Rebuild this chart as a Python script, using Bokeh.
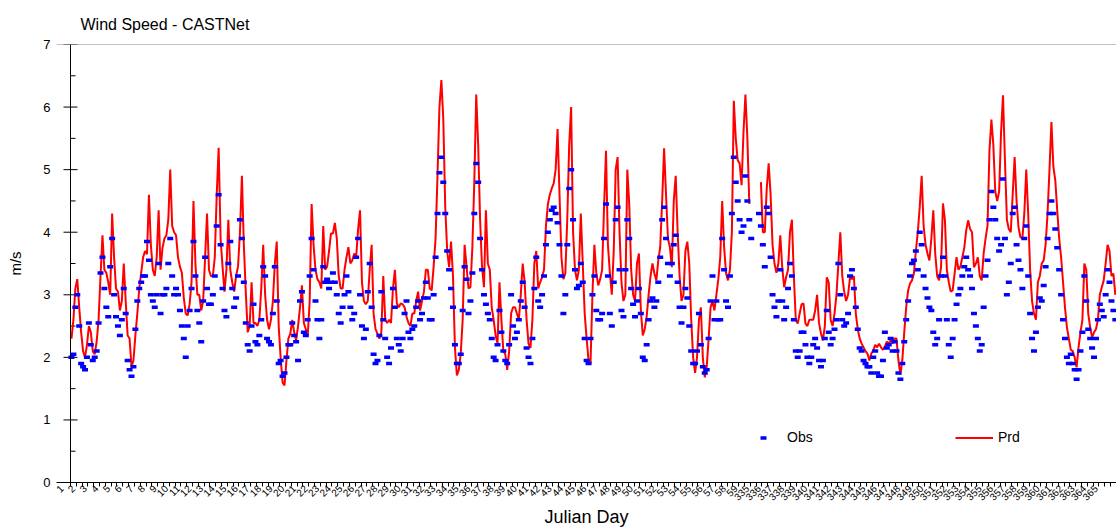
import math
import numpy as np
from bokeh.plotting import figure
from bokeh.models import Range1d, FixedTicker, Span, Legend, LegendItem
from bokeh.embed import file_html
from bokeh.resources import INLINE

nan = float("nan")
FONT = "Liberation Sans"

# Julian day of each plotted day (Jan 1 - Feb 28, then Dec 1 - Dec 31)
day_labels = list(range(1, 60)) + list(range(335, 366))
SAMPLES_PER_DAY = 6  # 4-hourly values

# Predicted wind speed (m/s), one row per day
prd_jan = [
    2.3, 2.6, 3.1, 3.25, 2.8, 2.4,
    2.1, 2.0, 2.2, 2.5, 2.4, 2.1,
    2.05, 2.25, 2.6, 3.3, 3.95, 3.4,
    3.35, 3.2, 3.0, 4.3, 3.6, 3.1,
    3.05, 2.75, 2.9, 3.5, 2.9, 2.35,
    2.3, 1.85, 1.95, 2.35, 2.7, 3.1,
    3.35, 3.6, 3.7, 3.65, 4.6, 3.8,
    3.4, 3.3, 3.6, 4.35, 3.4, 3.75,
    3.9, 3.95, 4.2, 5.0, 4.1, 4.0,
    3.95, 3.6, 3.45, 3.35, 2.95, 2.7,
    2.67, 2.85, 3.2, 4.5, 3.5, 3.0,
    3.0, 2.75, 2.9, 3.6, 4.3, 3.4,
    3.3, 3.3, 3.6, 4.6, 5.35, 3.9,
    3.45, 3.05, 3.4, 4.2, 3.4, 3.2,
    3.05, 3.3, 3.45, 4.0, 4.9, 3.8,
    3.05, 2.4, 2.5, 3.2, 2.55, 2.55,
    2.5, 2.6, 3.1, 3.8, 3.0, 2.6,
    2.45, 2.6, 2.9, 3.5, 3.85, 2.5,
    2.0, 1.6, 1.55, 1.95, 2.3, 2.38,
    2.6, 2.4, 2.27, 2.5, 2.8, 3.15,
    2.55, 2.45, 2.35, 2.9, 4.45, 3.8,
    3.4, 3.25, 3.2, 3.1, 4.1, 3.4,
    3.45, 3.7, 3.98, 3.98, 4.15, 3.9,
    3.3, 3.1, 3.1, 3.4, 3.6, 3.76,
    3.5, 3.55, 3.66, 3.6, 4.05, 4.35,
    3.2, 2.9, 2.85, 2.9, 3.4, 3.8,
    2.7, 2.45, 2.38, 2.3, 2.4, 3.3,
    2.6, 2.55, 2.6, 2.55, 3.1, 3.4,
    2.86, 2.8, 2.86, 2.85, 2.8, 2.65,
    2.55, 2.5, 2.7, 2.7, 2.9, 3.05,
    2.75, 2.9, 3.05, 3.4, 3.4, 3.1,
]
prd_feb = [
    3.07, 3.45, 3.9, 4.9, 6.0, 6.43,
    5.8, 4.4, 3.7, 3.44, 3.85, 3.3,
    2.16, 1.71, 1.8, 2.06, 2.6, 3.8,
    3.45, 3.1, 3.12, 3.76, 4.8, 6.2,
    5.4, 4.2, 3.44, 3.12, 4.35, 3.5,
    3.4, 2.8, 2.6, 2.35, 2.22, 3.2,
    2.6, 2.1, 2.05, 1.8, 2.1, 2.7,
    2.8, 2.8, 2.7, 2.6, 3.0, 3.5,
    3.2, 2.6, 2.22, 2.15, 2.6, 3.5,
    3.7, 3.1, 3.2, 3.28, 3.4, 4.1,
    4.45, 4.6, 4.7, 4.78, 5.0, 5.65,
    4.6, 3.6, 3.25, 3.34, 4.2, 5.4,
    6.0, 4.0, 3.4, 3.23, 3.4, 4.3,
    3.5, 2.7, 2.3, 1.95, 1.9, 3.0,
    3.8, 3.35, 3.15, 3.25, 3.4, 4.4,
    5.3, 3.8, 3.35, 3.0, 3.7, 5.0,
    5.2, 4.0, 3.2, 2.9, 3.0, 5.0,
    4.45, 3.4, 3.0, 2.9, 3.5, 3.66,
    2.75, 2.35, 2.45, 2.65, 3.0, 3.3,
    3.5, 3.34, 3.23, 3.55, 3.76, 4.5,
    5.34, 4.6, 3.9, 3.76, 3.44, 4.5,
    4.9, 4.0, 3.3, 2.9, 3.0, 3.7,
    3.85, 3.5, 2.6, 2.0, 1.75, 2.0,
    2.6, 2.8, 2.0, 1.68, 1.85, 2.3,
    2.8, 2.9, 2.75, 3.0, 3.25, 3.6,
    4.5, 3.76, 3.34, 3.23, 3.4, 4.0,
    6.1, 5.5, 5.15, 5.1, 4.75, 5.6,
    6.2, 5.5, 4.45, nan, nan, nan,
]
prd_dec = [
    nan, nan, 4.8, 4.0, 4.0, 4.7,
    5.1, 4.6, 3.8, 3.5, 3.35, 3.5,
    3.95, 3.44, 3.12, 3.28, 3.4, 4.0,
    4.2, 3.3, 2.6, 2.54, 2.7, 2.85,
    2.86, 2.54, 2.5, 2.6, 2.6, 2.6,
    2.75, 3.0, 2.55, 2.38, 2.27, 2.5,
    3.28, 3.2, 2.6, 2.5, 2.7, 3.0,
    3.5, 4.0, 3.3, 3.05, 2.9, 3.0,
    3.28, 3.25, 3.3, 2.7, 2.45, 2.3,
    2.22, 2.16, 2.1, 2.06, 1.95, 2.06,
    2.11, 2.2, 2.16, 2.22, 2.16, 2.12,
    2.17, 2.25, 2.22, 2.27, 2.22, 2.3,
    2.3, 1.95, 1.72, 1.95, 2.4, 2.8,
    3.07, 3.18, 3.23, 3.34, 3.7, 4.0,
    4.4, 4.9, 4.1, 3.8, 3.66, 3.55,
    3.9, 4.35, 3.66, 3.3, 3.23, 3.44,
    4.46, 4.2, 3.4, 3.2, 3.05, 3.07,
    3.34, 3.6, 3.4, 3.45, 3.6, 3.75,
    4.03, 4.19, 4.05, 4.0, 3.44, 3.5,
    3.6, 3.3, 3.23, 3.66, 3.9, 4.1,
    5.3, 5.8, 5.4, 4.65, 4.5, 4.65,
    5.6, 6.19, 5.15, 4.2, 4.05, 4.0,
    4.6, 5.2, 4.5, 4.08, 3.92, 3.9,
    4.3, 5.0, 4.3, 3.4, 2.9, 2.7,
    2.6, 3.2, 3.3, 3.5, 3.55, 3.8,
    4.3, 5.0, 5.76, 5.05, 4.83, 4.35,
    3.9, 3.6, 3.2, 2.8, 2.48, 2.3,
    2.12, 2.1, 2.0, 1.84, 2.16, 2.4,
    2.6, 3.5, 3.4, 2.7, 2.48, 2.32,
    2.4, 2.45, 2.6, 3.0, 3.12, 3.23,
    3.5, 3.8, 3.7, 3.3, 3.34, 3.0,
]

# Observed wind speed (m/s), one row per day
obs_jan = [
    2.0, 2.05, 2.8, 3.0, 2.5, 1.9,
    1.85, 1.8, 2.0, 2.55, 2.2, 1.95,
    2.0, 2.1, 2.55, 3.35, 3.6, 3.1,
    2.8, 2.65, 3.45, 3.9, 3.0, 2.65,
    2.5, 2.35, 2.6, 3.1, 2.7, 1.95,
    1.8, 1.7, 1.85, 2.45, 2.9, 3.1,
    3.2, 3.3, 3.3, 3.85, 3.55, 3.0,
    2.9, 2.8, 3.0, 3.5, 2.7, 3.0,
    3.0, 3.1, 3.5, 3.9, 3.3, 3.0,
    3.1, 3.0, 2.75, 2.5, 2.3, 2.0,
    2.5, 2.75, 3.1, 3.85, 3.3, 2.75,
    2.55, 2.25, 2.9, 3.6, 3.1, 2.85,
    2.85, 3.0, 3.3, 4.1, 4.6, 3.8,
    3.1, 2.75, 2.65, 3.5, 3.85, 3.1,
    2.8, 2.95, 3.3, 4.2, 3.9, 3.2,
    2.55, 2.2, 2.1, 2.5, 2.85, 2.25,
    2.2, 2.35, 2.6, 3.45, 3.3, 2.3,
    2.25, 2.2, 2.7, 3.45, 2.9, 1.9,
    1.95, 1.7, 1.75, 2.0, 2.2, 2.2,
    2.55, 2.35, 2.25, 1.95, 2.9, 3.05,
    2.4, 2.35, 2.6, 3.3, 3.9, 3.4,
    2.9, 2.6, 2.3, 2.6, 3.45, 3.2,
    3.25, 3.1, 3.2, 3.35, 3.2, 3.0,
    2.7, 2.55, 2.8, 3.0, 3.3, 3.05,
    2.8, 2.6, 2.7, 3.6, 3.9, 3.0,
    2.5, 2.3, 2.45, 3.05, 3.5, 2.8,
    2.05, 1.9, 1.95, 2.35, 3.05, 2.6,
    2.3, 2.0, 1.9, 2.15, 3.1, 2.8,
    2.3, 2.2, 2.1, 2.3, 2.7, 2.9,
    2.4, 2.3, 2.45, 2.5, 2.8, 2.9,
    2.6, 2.7, 2.95, 3.2, 2.95, 2.6,
]
obs_feb = [
    2.6, 3.0, 3.6, 4.3, 4.95, 5.2,
    4.8, 4.3, 3.7, 3.4, 3.1, 2.8,
    2.2, 1.9, 1.9, 2.05, 2.75, 3.45,
    3.25, 2.7, 2.9, 3.35, 4.3, 5.1,
    4.8, 3.9, 3.4, 3.0, 2.85, 2.7,
    2.6, 2.3, 2.0, 1.95, 2.2, 2.75,
    2.4, 2.1, 1.95, 1.9, 2.2, 3.0,
    2.5, 2.3, 2.4, 2.6, 2.9, 3.2,
    2.8, 2.15, 2.0, 1.9, 2.3, 3.1,
    3.6, 2.9, 2.8, 3.0, 3.3, 3.8,
    4.0, 4.2, 4.35, 4.4, 4.3, 4.15,
    3.8, 3.3, 2.7, 3.0, 3.8, 4.7,
    5.0, 4.2, 3.4, 3.1, 3.15, 3.5,
    3.2, 2.3, 1.95, 1.9, 2.3, 3.0,
    3.3, 2.75, 2.6, 2.6, 2.7, 3.9,
    4.45, 3.3, 2.7, 2.5, 3.2, 4.2,
    4.4, 3.4, 2.75, 2.65, 3.4, 4.2,
    3.9, 3.1, 2.85, 2.65, 2.9, 3.1,
    2.7, 2.0, 1.95, 2.2, 2.6, 2.9,
    2.95, 2.8, 2.9, 3.2, 3.6, 4.2,
    4.4, 3.9, 3.5, 3.3, 3.5, 3.8,
    3.95, 3.2, 2.8, 2.55, 2.8, 3.1,
    2.95, 2.5, 2.1, 1.9, 1.9, 2.1,
    2.7, 2.2, 1.85, 1.75, 1.8, 2.3,
    2.9, 3.3, 2.6, 2.9, 2.6, 2.6,
    3.9, 3.4, 2.9, 2.8, 3.3, 4.3,
    5.2, 4.8, 4.5, 4.2, 4.0, 4.1,
    4.9, 4.5, 4.2, 3.9, nan, nan,
]
obs_dec = [
    nan, 4.3, 4.1, 3.8, 3.45, 4.4,
    4.3, 3.6, 3.0, 2.8, 2.65, 2.9,
    3.4, 2.9, 2.6, 2.8, 3.1, 3.5,
    3.3, 2.6, 2.1, 2.0, 2.1, 2.4,
    2.4, 2.2, 2.0, 1.9, 2.0, 2.2,
    2.3, 2.15, 1.95, 1.85, 1.95, 2.3,
    2.75, 2.4, 2.2, 2.3, 2.45, 2.6,
    3.5, 3.0, 2.6, 2.5, 2.55, 2.7,
    3.3, 3.4, 3.1, 2.8, 2.45, 2.15,
    2.1, 1.95, 1.9, 1.85, 1.85, 1.75,
    2.0, 2.1, 1.75, 1.7, 1.7, 1.95,
    2.4, 2.15, 2.2, 2.3, 2.1, 2.25,
    2.1, 1.75, 1.65, 1.9, 2.25, 2.6,
    2.9, 3.3, 3.5, 3.55, 3.7, 3.4,
    4.0, 3.8, 3.3, 3.1, 2.95, 2.8,
    2.75, 2.4, 2.2, 2.3, 2.6, 3.3,
    3.6, 3.3, 2.6, 2.2, 2.0, 2.3,
    2.6, 2.85, 3.0, 3.1, 3.3, 3.45,
    3.6, 3.4, 3.3, 3.1, 2.7, 2.5,
    2.3, 2.1, 2.2, 2.8, 3.3, 3.55,
    4.2, 4.65, 4.4, 4.2, 3.9, 3.7,
    3.8, 4.85, 3.9, 3.0, 3.2, 3.5,
    4.3, 4.4, 3.8, 3.55, 3.4, 3.1,
    3.9, 4.1, 3.3, 2.7, 2.3, 2.1,
    2.4, 2.8, 2.95, 2.9, 3.15, 3.45,
    3.9, 4.3, 4.5, 4.3, 4.05, 3.75,
    3.4, 3.0, 2.6, 2.3, 2.0, 1.9,
    2.05, 1.9, 1.8, 1.65, 1.8, 2.1,
    2.4, 3.3, 2.9, 2.45, 2.3, 2.15,
    2.0, 2.3, 2.6, 2.85, 2.75, 2.65,
    3.0, 3.4, 3.2, 2.9, 2.75, 2.6,
]

prd = np.array(prd_jan + prd_feb + prd_dec, dtype=float)
obs = np.array(obs_jan + obs_feb + obs_dec, dtype=float)
n_days = len(day_labels)
# time in days since the first plotted day, sample centred in its 4-h slot
t = (np.arange(n_days * SAMPLES_PER_DAY) + 0.5) / SAMPLES_PER_DAY

# horizontal geometry: y axis sits at t = 0, frame extends a little to its left
PX_PER_DAY = 11.62
FRAME_LEFT = 56
AXIS_X = 70
x_start = -(AXIS_X - FRAME_LEFT) / PX_PER_DAY
x_end = x_start + (1116 - FRAME_LEFT) / PX_PER_DAY

p = figure(width=1116, height=529, output_backend="svg", toolbar_location=None,
           x_range=Range1d(x_start, x_end), y_range=Range1d(0, 7),
           min_border_left=FRAME_LEFT, min_border_right=0,
           min_border_top=44, min_border_bottom=47)
p.background_fill_color = "white"
p.border_fill_color = "white"
p.outline_line_color = None
p.xgrid.visible = False
p.ygrid.visible = False

# title
p.title.text = "Wind Speed - CASTNet"
p.title.text_font = FONT
p.title.text_font_size = "16px"
p.title.text_font_style = "normal"
p.title.text_color = "black"
p.title.align = "left"
p.title.offset = 24
p.title.standoff = 24

# y axis: labels from the Bokeh axis, line and ticks drawn at t = 0
yax = p.yaxis[0]
yax.ticker = FixedTicker(ticks=list(range(8)))
yax.axis_line_color = None
yax.major_tick_line_color = None
yax.minor_tick_line_color = None
yax.major_tick_out = 0
yax.major_tick_in = 0
yax.major_label_standoff = 6
yax.major_label_text_font = FONT
yax.major_label_text_font_size = "13px"
yax.major_label_text_color = "black"
yax.axis_label = "m/s"
yax.axis_label_text_font = FONT
yax.axis_label_text_font_size = "15px"
yax.axis_label_text_font_style = "normal"
yax.axis_label_text_color = "black"
yax.axis_label_standoff = 16

p.add_layout(Span(location=7, dimension="width", line_color="#808080", line_width=1))
p.add_layout(Span(location=0, dimension="height", line_color="black", line_width=1))
major_y = list(range(8))
minor_y = [v + 0.5 for v in range(7)]
tick_half = 7 / PX_PER_DAY
p.segment(x0=[-tick_half] * len(major_y), x1=[tick_half] * len(major_y),
          y0=major_y, y1=major_y, line_color="black", line_width=1)
p.segment(x0=[0] * len(minor_y), x1=[5 / PX_PER_DAY] * len(minor_y),
          y0=minor_y, y1=minor_y, line_color="black", line_width=1)

# x axis: one label per day, tick marks every half day
label_ticks = [round(d - 0.77, 2) for d in range(n_days)]
half_day_ticks = [k * 0.5 for k in range(2 * n_days + 1)]
xax = p.xaxis[0]
xax.ticker = FixedTicker(ticks=label_ticks, minor_ticks=half_day_ticks)
xax.major_label_overrides = {tk: str(lab) for tk, lab in zip(label_ticks, day_labels)}
xax.major_label_orientation = math.pi / 4
xax.axis_line_color = "black"
xax.major_tick_line_color = None
xax.major_tick_out = 4
xax.major_tick_in = 0
xax.minor_tick_line_color = "black"
xax.minor_tick_out = 4
xax.minor_tick_in = 0
xax.major_label_standoff = 0
xax.major_label_text_font = FONT
xax.major_label_text_font_size = "10px"
xax.major_label_text_color = "black"
xax.axis_label = "Julian Day"
xax.axis_label_text_font = FONT
xax.axis_label_text_font_size = "18px"
xax.axis_label_text_font_style = "normal"
xax.axis_label_text_color = "black"
xax.axis_label_standoff = 0

# series
r_prd = p.line(t, prd, line_color="#FF0000", line_width=2)
r_obs = p.scatter(t, obs, marker="dash", size=6, line_width=3.5, line_color="#0000FF")

common = dict(orientation="horizontal", glyph_width=38, glyph_height=15,
              label_height=15, label_standoff=5, padding=0, margin=0,
              border_line_color=None, background_fill_alpha=0,
              label_text_font=FONT, label_text_font_size="14px",
              label_text_color="black")
leg_obs = Legend(items=[LegendItem(label="Obs", renderers=[r_obs])],
                 location=(688, 37), **common)
leg_prd = Legend(items=[LegendItem(label="Prd", renderers=[r_prd])],
                 location=(899, 37), **common)
p.add_layout(leg_obs)
p.add_layout(leg_prd)

with open("out.html", "w") as f:
    f.write(file_html(p, INLINE))
